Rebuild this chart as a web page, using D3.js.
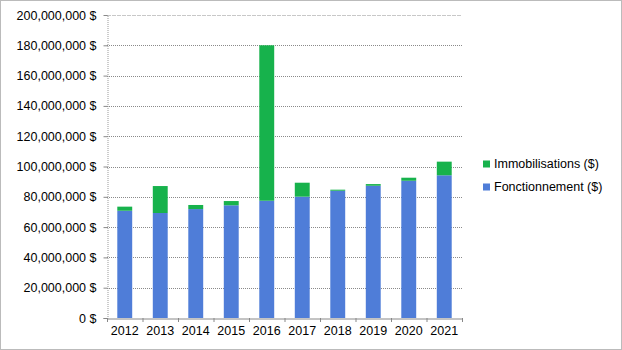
<!DOCTYPE html>
<html><head><meta charset="utf-8">
<script src="https://cdn.jsdelivr.net/npm/d3@7"></script>
<style>body{margin:0;background:#fff}svg{display:block;font-family:"Liberation Sans",Arial,sans-serif}</style>
</head><body><svg id="c" width="622" height="350"></svg>
<script>
const years = ["2012","2013","2014","2015","2016","2017","2018","2019","2020","2021"];
const fonctionnement = [70.8e6,69.3e6,71.9e6,74.4e6,77.4e6,80.1e6,84.0e6,87.3e6,90.6e6,94.2e6];
const immobilisations = [2.7e6,17.8e6,2.7e6,2.8e6,102.6e6,9.2e6,0.7e6,1.1e6,2.0e6,9.0e6];
const yTicks = [0,20e6,40e6,60e6,80e6,100e6,120e6,140e6,160e6,180e6,200e6];
const seriesNames = ["Immobilisations ($)","Fonctionnement ($)"];
const colors = {"Fonctionnement ($)":"#4f7dd8","Immobilisations ($)":"#17b24c"};

const svg = d3.select("#c");
svg.append("rect").attr("x",0.5).attr("y",0.5).attr("width",621).attr("height",349)
  .attr("fill","none").attr("stroke","#777").attr("stroke-dasharray","1,1");

const x = d3.scaleBand().domain(years).range([107,462]).paddingInner(0.58).paddingOuter(0.29);
const y = d3.scaleLinear().domain([0,200e6]).range([318,15]);

// gridlines
svg.append("g").selectAll("line").data(yTicks.filter(d=>d>0)).join("line")
  .attr("x1",107).attr("x2",462).attr("y1",d=>Math.round(y(d))+0.5).attr("y2",d=>Math.round(y(d))+0.5)
  .attr("stroke",d=>d===200e6?"#c8c8c8":"#8a8a8a").attr("stroke-dasharray",d=>d===200e6?"4,1":"1,1");

const fmt = d => d3.format(",")(d) + " $";
const ya = svg.append("g").attr("transform","translate(107.5,0)")
  .call(d3.axisLeft(y).tickValues(yTicks).tickFormat(fmt).tickSize(4).tickPadding(7));
ya.select(".domain").attr("stroke","#999").attr("stroke-dasharray","1,1");
ya.selectAll(".tick line").attr("stroke","#888");
ya.selectAll("text").attr("font-size","12.5px").attr("fill","#000").attr("font-family","Liberation Sans, Arial, sans-serif");

// stacked bars
const data = years.map((yr,i)=>({year:yr,"Fonctionnement ($)":fonctionnement[i],"Immobilisations ($)":immobilisations[i]}));
const stack = d3.stack().keys(["Fonctionnement ($)","Immobilisations ($)"])(data);
svg.append("g").selectAll("g").data(stack).join("g").attr("fill",s=>colors[s.key])
  .selectAll("rect").data(s=>s).join("rect")
  .attr("x",d=>x(d.data.year)).attr("width",x.bandwidth())
  .attr("y",d=>y(d[1])).attr("height",d=>y(d[0])-y(d[1]));

// x axis
const xa = svg.append("g").attr("transform","translate(0,318.5)")
  .call(d3.axisBottom(x).tickSize(0).tickPadding(8));
xa.select(".domain").attr("stroke","#888");
xa.selectAll("text").attr("font-size","12.5px").attr("fill","#000").attr("font-family","Liberation Sans, Arial, sans-serif");
const step = x.step();
svg.append("g").selectAll("line").data(d3.range(years.length+1)).join("line")
  .attr("x1",i=>107.5+i*step).attr("x2",i=>107.5+i*step).attr("y1",318).attr("y2",322)
  .attr("stroke","#888");

// legend
const lg = svg.append("g").selectAll("g").data(seriesNames).join("g")
  .attr("transform",(d,i)=>`translate(483,${164+i*23})`);
lg.append("rect").attr("x",0).attr("y",-3.5).attr("width",7).attr("height",7).attr("fill",d=>colors[d]);
lg.append("text").attr("x",11).attr("y",0).attr("dy","0.35em").attr("font-size","12.5px").text(d=>d);
</script></body></html>
